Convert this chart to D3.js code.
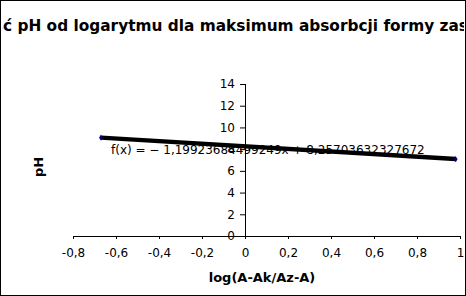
<!DOCTYPE html>
<html>
<head>
<meta charset="utf-8">
<script src="https://cdn.jsdelivr.net/npm/d3@7"></script>
<style>
  body { margin: 0; background: #fff; }
  svg { display: block; font-family: 'DejaVu Sans', sans-serif; }
</style>
</head>
<body>
<svg id="chart" width="466" height="296"></svg>
<script>
const titleHidden = 'Zależnoś'
const titleShown = 'ć pH od logarytmu dla maksimum absorbcji formy zasadowej'
const xLabel = 'log(A-Ak/Az-A)'
const yLabel = 'pH'
const xTicks = [-0.8, -0.6, -0.4, -0.2, 0, 0.2, 0.4, 0.6, 0.8, 1]
const yTicks = [0, 2, 4, 6, 8, 10, 12, 14]
const pointsX = [-0.67, 0.98]
const pointsY = [9.06, 7.08]
const slope = -1.19923684499249
const intercept = 8.25703632327672
const equation = 'f(x) = − 1,19923684499249x + 8,25703632327672'

const svg = d3.select('#chart')
const fmt = d => String(d).replace('.', ',')

const x = d3.scaleLinear().domain([-0.8, 1]).range([73, 460])
const y = d3.scaleLinear().domain([0, 14]).range([236, 84])

svg.append('rect')
  .attr('x', 0.5).attr('y', 0.5)
  .attr('width', 465).attr('height', 295)
  .attr('fill', '#fff').attr('stroke', '#000')

// the title is wider than the frame and is cut by it on both sides
svg.append('defs').append('clipPath')
  .attr('id', 'titleClip')
  .append('rect')
  .attr('x', 2.5).attr('y', 0)
  .attr('width', 461.5).attr('height', 60)
const titleG = svg.append('g')
  .attr('clip-path', 'url(#titleClip)')
  .attr('font-size', 15.35)
  .attr('font-weight', 'bold')
titleG.append('text')
  .attr('x', 3).attr('y', 31)
  .attr('text-anchor', 'end')
  .text(titleHidden)
titleG.append('text')
  .attr('x', 3).attr('y', 31)
  .text(titleShown)

const xAxis = svg.append('g')
  .attr('transform', 'translate(0,' + y(0) + ')')
  .call(d3.axisBottom(x).tickValues(xTicks).tickFormat(fmt).tickSize(3).tickPadding(9))
const yAxis = svg.append('g')
  .attr('transform', 'translate(' + x(0) + ',0)')
  .call(d3.axisLeft(y).tickValues(yTicks).tickSize(5).tickPadding(5))

;[xAxis, yAxis].forEach(g => {
  g.select('.domain').attr('stroke', '#000').attr('stroke-width', 1)
  g.selectAll('.tick line').attr('stroke', '#000')
  g.selectAll('.tick text')
    .attr('font-family', 'DejaVu Sans, sans-serif')
    .attr('font-size', 12)
    .attr('fill', '#000')
})
xAxis.selectAll('.domain').attr('d', 'M' + x(-0.8) + ',0.5H' + x(1))
yAxis.selectAll('.domain').attr('d', 'M0.5,' + y(0) + 'V' + y(14))

svg.append('text')
  .attr('x', 262).attr('y', 282)
  .attr('text-anchor', 'middle')
  .attr('font-size', 13)
  .attr('font-weight', 'bold')
  .text(xLabel)

svg.append('text')
  .attr('transform', 'translate(43,167) rotate(-90)')
  .attr('text-anchor', 'middle')
  .attr('font-size', 13)
  .attr('font-weight', 'bold')
  .text(yLabel)

const xMin = d3.min(pointsX)
const xMax = d3.max(pointsX)
svg.append('line')
  .attr('x1', x(xMin)).attr('y1', y(slope * xMin + intercept))
  .attr('x2', x(xMax)).attr('y2', y(slope * xMax + intercept))
  .attr('stroke', '#000')
  .attr('stroke-width', 4.5)

svg.append('g')
  .selectAll('path')
  .data(pointsX.map((d, i) => [d, pointsY[i]]))
  .join('path')
  .attr('transform', d => 'translate(' + x(d[0]) + ',' + y(d[1]) + ')')
  .attr('d', d3.symbol(d3.symbolDiamond, 12))
  .attr('fill', '#000080')

svg.append('text')
  .attr('x', 111).attr('y', 154)
  .attr('font-size', 12)
  .text(equation)
</script>
</body>
</html>
